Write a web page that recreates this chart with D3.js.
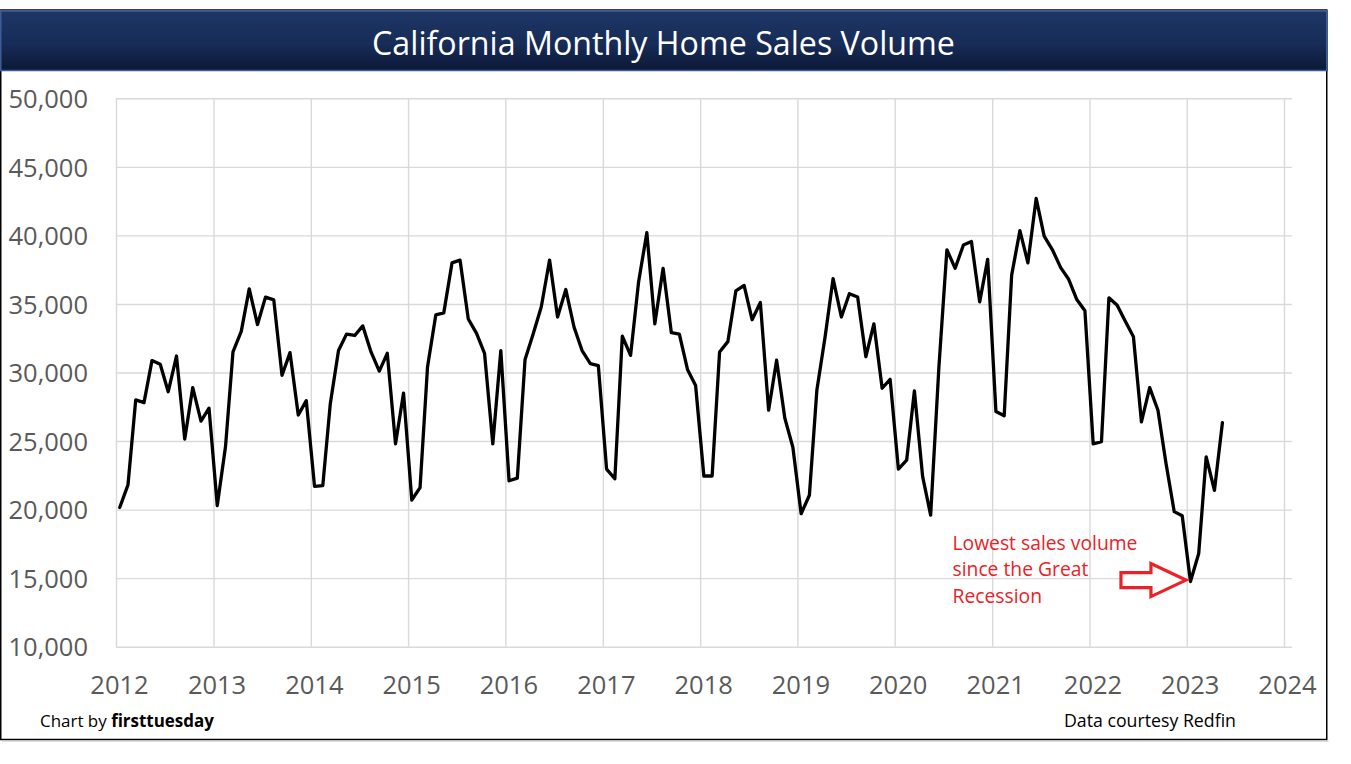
<!DOCTYPE html>
<html>
<head>
<meta charset="utf-8">
<script src="https://cdn.jsdelivr.net/npm/d3@7/dist/d3.min.js"></script>
<style>
  html, body { margin: 0; padding: 0; background: #ffffff; }
  svg { display: block; }
</style>
</head>
<body>
<svg id="chart" width="1351" height="764"></svg>
<script>
// ---------------- DATA ----------------
const titleText = "California Monthly Home Sales Volume";
const startYear = 2012;           // first observation: January 2012 (monthly)
const sales = [
  // 2012
  20150, 21800, 28000, 27800, 30870, 30600, 28600, 31200, 25150, 28900, 26450, 27400,
  // 2013
  20300, 24600, 31500, 33000, 36100, 33500, 35500, 35300, 29800, 31450, 26900, 27950,
  // 2014
  21700, 21750, 27700, 31600, 32800, 32700, 33400, 31500, 30100, 31400, 24800, 28500,
  // 2015
  20700, 21600, 30400, 34200, 34350, 38000, 38200, 33900, 32850, 31400, 24800, 31600,
  // 2016
  22100, 22300, 30950, 32850, 34800, 38200, 34050, 36050, 33300, 31600, 30650, 30500,
  // 2017
  22950, 22250, 32650, 31250, 36600, 40200, 33550, 37600, 32900, 32800, 30200, 29050,
  // 2018
  22450, 22450, 31500, 32250, 35950, 36350, 33850, 35100, 27250, 30900, 26650, 24550,
  // 2019
  19700, 21050, 28700, 32600, 36850, 34050, 35750, 35500, 31150, 33550, 28850, 29500,
  // 2020
  22950, 23600, 28650, 22400, 19600, 30400, 38950, 37600, 39300, 39550, 35150, 38250,
  // 2021
  27150, 26850, 37100, 40350, 38000, 42700, 39950, 38950, 37650, 36800, 35300, 34500,
  // 2022
  24800, 24950, 35450, 34900, 33750, 32600, 26400, 28900, 27250, 23400, 19850, 19550,
  // 2023
  14750, 16800, 23850, 21400, 26350
];
const yTicks = [10000, 15000, 20000, 25000, 30000, 35000, 40000, 45000, 50000];
const xYears = [2012, 2013, 2014, 2015, 2016, 2017, 2018, 2019, 2020, 2021, 2022, 2023, 2024];
const annotationLines = ["Lowest sales volume", "since the Great", "Recession"];
const footerLeftPrefix = "Chart by ";
const footerLeftBold = "firsttuesday";
const footerRight = "Data courtesy Redfin";

// ---------------- LAYOUT ----------------
const svg = d3.select("#chart");
const W = 1351, H = 764;
const plot = { left: 116, right: 1284, top: 98.3, bottom: 646.7, gridRight: 1292 };
const FONT = "'Open Sans', 'Noto Sans', sans-serif";
const RED = "#ec2027";

function fitWidth(sel, target) {
  const len = sel.node().getComputedTextLength();
  const fs = parseFloat(sel.attr("font-size"));
  if (len > 0) sel.attr("font-size", fs * target / len);
}

// gradient for banner
const defs = svg.append("defs");
const grad = defs.append("linearGradient").attr("id", "banner").attr("x1", 0).attr("y1", 0).attr("x2", 0).attr("y2", 1);
grad.append("stop").attr("offset", "0%").attr("stop-color", "#1e3768");
grad.append("stop").attr("offset", "55%").attr("stop-color", "#172c57");
grad.append("stop").attr("offset", "100%").attr("stop-color", "#0c1836");

// outer frame
svg.append("rect").attr("x", 0.75).attr("y", 10).attr("width", 1326).attr("height", 729.5)
  .attr("fill", "#ffffff").attr("stroke", "#000000").attr("stroke-width", 1.5);
// soft shadow at bottom edge
svg.append("line").attr("x1", 2).attr("x2", 1328.5).attr("y1", 741).attr("y2", 741)
  .attr("stroke", "#bdbdbd").attr("stroke-width", 1);

// banner
svg.append("rect").attr("x", 0).attr("y", 10).attr("width", 1327.5).attr("height", 61)
  .attr("fill", "url(#banner)");
svg.append("line").attr("x1", 0).attr("x2", 1327.5).attr("y1", 10.5).attr("y2", 10.5)
  .attr("stroke", "#5a5f6a").attr("stroke-width", 1.2);
svg.append("rect").attr("x", 0.75).attr("y", 11).attr("width", 1326).attr("height", 59.5)
  .attr("fill", "none").attr("stroke", "#3c5d9a").attr("stroke-width", 1.5);

const title = svg.append("text")
  .attr("x", 663.5).attr("y", 55)
  .attr("text-anchor", "middle")
  .attr("font-family", FONT).attr("font-size", 30)
  .attr("fill", "#ffffff")
  .text(titleText);
fitWidth(title, 583);

// ---------------- SCALES ----------------
const x = d3.scaleTime()
  .domain([new Date(2012, 0, 1), new Date(2024, 0, 1)])
  .range([plot.left, plot.right]);
const y = d3.scaleLinear()
  .domain([10000, 50000])
  .range([plot.bottom, plot.top]);

const points = sales.map((v, i) => ({ date: new Date(startYear, i, 15), value: v }));

// ---------------- GRID ----------------
const gridColor = "#d9d9d9";
const yGrid = svg.append("g").attr("class", "y-grid")
  .attr("transform", `translate(${plot.left},0)`)
  .call(d3.axisRight(y).tickValues(yTicks).tickSize(plot.gridRight - plot.left).tickFormat(""));
yGrid.select(".domain").remove();
yGrid.selectAll(".tick line").attr("stroke", gridColor).attr("stroke-width", 1.4);

const xGrid = svg.append("g").attr("class", "x-grid")
  .attr("transform", `translate(0,${plot.bottom})`)
  .call(d3.axisTop(x).tickValues(xYears.map(yr => new Date(yr, 0, 1)))
    .tickSize(plot.bottom - plot.top).tickFormat(""));
xGrid.select(".domain").remove();
xGrid.selectAll(".tick line").attr("stroke", gridColor).attr("stroke-width", 1.4);

// ---------------- AXES LABELS ----------------
const fmt = d3.format(",");
const yAxis = svg.append("g").attr("class", "y-axis")
  .attr("transform", `translate(88,0)`)
  .call(d3.axisLeft(y).tickValues(yTicks).tickSize(0).tickPadding(0).tickFormat(fmt));
yAxis.select(".domain").remove();
yAxis.selectAll("text")
  .attr("font-family", FONT).attr("font-size", 25.5).attr("fill", "#595959")
  .attr("dy", "0.36em");

const xAxis = svg.append("g").attr("class", "x-axis")
  .attr("transform", `translate(3,${plot.bottom})`)
  .call(d3.axisBottom(x).tickValues(xYears.map(yr => new Date(yr, 0, 1)))
    .tickSize(0).tickPadding(0).tickFormat(d3.timeFormat("%Y")));
xAxis.select(".domain").remove();
xAxis.selectAll("text")
  .attr("font-family", FONT).attr("font-size", 25.5).attr("fill", "#595959")
  .attr("dy", null).attr("y", 47.5);

// ---------------- LINE ----------------
const line = d3.line().x(d => x(d.date)).y(d => y(d.value));
svg.append("path")
  .datum(points)
  .attr("d", line)
  .attr("fill", "none")
  .attr("stroke", "#000000")
  .attr("stroke-width", 3.3)
  .attr("stroke-linejoin", "round")
  .attr("stroke-linecap", "round");

// ---------------- ANNOTATION ----------------
const ann = svg.append("text")
  .attr("font-family", FONT).attr("font-size", 17).attr("fill", RED);
annotationLines.forEach((t, i) => {
  ann.append("tspan").attr("x", 952.5).attr("y", 549.5 + i * 26.7).text(t);
});
// fit first line width
{
  const first = ann.select("tspan").node();
  const len = first.getComputedTextLength();
  ann.attr("font-size", 17 * 185 / len);
}

// block arrow pointing at the minimum
const minPt = points.reduce((a, b) => (b.value < a.value ? b : a));
const tipX = x(minPt.date) - 4.5, tipY = y(minPt.value) - 1.5;
const arrowPath = d3.path();
arrowPath.moveTo(tipX - 65, tipY - 7.5);
arrowPath.lineTo(tipX - 35, tipY - 7.5);
arrowPath.lineTo(tipX - 35, tipY - 16.5);
arrowPath.lineTo(tipX, tipY);
arrowPath.lineTo(tipX - 35, tipY + 16.5);
arrowPath.lineTo(tipX - 35, tipY + 7.5);
arrowPath.lineTo(tipX - 65, tipY + 7.5);
arrowPath.closePath();
svg.append("path").attr("d", arrowPath.toString())
  .attr("fill", "#ffffff").attr("stroke", RED).attr("stroke-width", 3.2)
  .attr("stroke-linejoin", "miter");

// ---------------- FOOTER ----------------
const fl = svg.append("text")
  .attr("x", 40).attr("y", 727)
  .attr("font-family", FONT).attr("font-size", 16).attr("fill", "#000000");
fl.append("tspan").text(footerLeftPrefix);
fl.append("tspan").attr("font-weight", "bold").text(footerLeftBold);
fitWidth(fl, 174);

const fr = svg.append("text")
  .attr("x", 1064).attr("y", 727)
  .attr("font-family", FONT).attr("font-size", 16).attr("fill", "#000000")
  .text(footerRight);
fitWidth(fr, 172);
</script>
</body>
</html>
